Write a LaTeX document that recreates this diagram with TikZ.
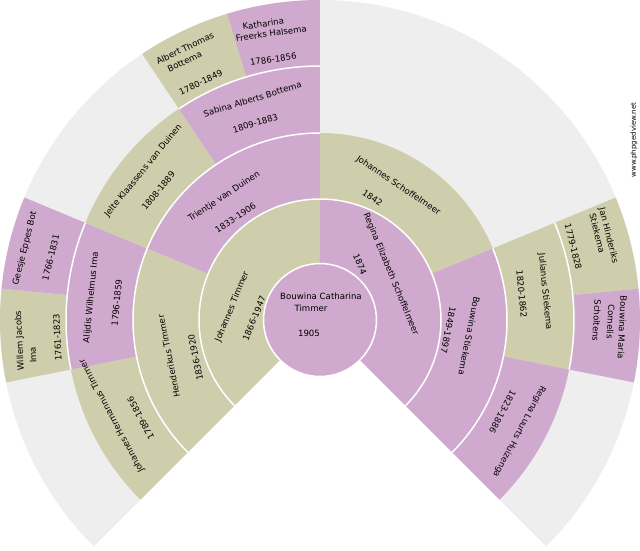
\documentclass[tikz,border=0pt]{standalone}
\usepackage{fontspec}
\newfontfamily\fanfont{DejaVu Sans}
\definecolor{fanolive}{RGB}{206,206,172}
\definecolor{fanmauve}{RGB}{208,170,206}
\definecolor{fangray}{RGB}{238,238,238}

\begin{document}
\begin{tikzpicture}[x=1pt, y=1pt,
    lbl/.style={font=\fanfont\fontsize{8.6}{10}\selectfont, inner sep=0pt},
    wm/.style={font=\fanfont\fontsize{7}{8}\selectfont, inner sep=0pt},
    ring/.style={white, line width=1.5}]
\def\rA{56.5}
\def\rB{121}
\def\rC{187}
\def\rD{254}
\def\rE{320}
\useasboundingbox (-320,-230) rectangle (320,320);
\fill[white] (-320,-230) rectangle (320,320);
% Hintergrund
\fill[fangray] (0,0) -- (225:\rE) arc (225:-45:\rE) -- cycle;

% Generation 4
\fill[fanolive] (191.25:\rD) arc (191.25:174.375:\rD) -- (174.375:\rE) arc (174.375:191.25:\rE) -- cycle;
\fill[fanmauve] (174.375:\rD) arc (174.375:157.5:\rD) -- (157.5:\rE) arc (157.5:174.375:\rE) -- cycle;
\fill[fanolive] (123.75:\rD) arc (123.75:106.875:\rD) -- (106.875:\rE) arc (106.875:123.75:\rE) -- cycle;
\fill[fanmauve] (106.875:\rD) arc (106.875:90:\rD) -- (90:\rE) arc (90:106.875:\rE) -- cycle;
\fill[fanolive] (22.5:\rD) arc (22.5:5.625:\rD) -- (5.625:\rE) arc (5.625:22.5:\rE) -- cycle;
\fill[fanmauve] (5.625:\rD) arc (5.625:-11.25:\rD) -- (-11.25:\rE) arc (-11.25:5.625:\rE) -- cycle;

% Generation 3
\fill[fanolive] (225:\rC) arc (225:191.25:\rC) -- (191.25:\rD) arc (191.25:225:\rD) -- cycle;
\fill[fanmauve] (191.25:\rC) arc (191.25:157.5:\rC) -- (157.5:\rD) arc (157.5:191.25:\rD) -- cycle;
\fill[fanolive] (157.5:\rC) arc (157.5:123.75:\rC) -- (123.75:\rD) arc (123.75:157.5:\rD) -- cycle;
\fill[fanmauve] (123.75:\rC) arc (123.75:90:\rC) -- (90:\rD) arc (90:123.75:\rD) -- cycle;
\fill[fanolive] (22.5:\rC) arc (22.5:-11.25:\rC) -- (-11.25:\rD) arc (-11.25:22.5:\rD) -- cycle;
\fill[fanmauve] (-11.25:\rC) arc (-11.25:-45:\rC) -- (-45:\rD) arc (-45:-11.25:\rD) -- cycle;

% Generation 2
\fill[fanolive] (225:\rB) arc (225:157.5:\rB) -- (157.5:\rC) arc (157.5:225:\rC) -- cycle;
\fill[fanmauve] (157.5:\rB) arc (157.5:90:\rB) -- (90:\rC) arc (90:157.5:\rC) -- cycle;
\fill[fanolive] (90:\rB) arc (90:22.5:\rB) -- (22.5:\rC) arc (22.5:90:\rC) -- cycle;
\fill[fanmauve] (22.5:\rB) arc (22.5:-45:\rB) -- (-45:\rC) arc (-45:22.5:\rC) -- cycle;

% Generation 1
\fill[fanolive] (225:\rA) arc (225:90:\rA) -- (90:\rB) arc (90:225:\rB) -- cycle;
\fill[fanmauve] (90:\rA) arc (90:-45:\rA) -- (-45:\rB) arc (-45:90:\rB) -- cycle;

% weisse Ringe
\draw[ring] (225:\rB) arc (225:-45:\rB);
\draw[ring] (225:\rC) arc (225:90:\rC);
\draw[ring] (22.5:\rC) arc (22.5:-45:\rC);
\draw[ring] (191.25:\rD) arc (191.25:157.5:\rD);
\draw[ring] (123.75:\rD) arc (123.75:90:\rD);
\draw[ring] (22.5:\rD) arc (22.5:-11.25:\rD);
\draw[ring, fill=fanmauve] (0,0) circle (\rA);

% Mitte
\node[lbl] (bct) at (1,24) {Bouwina Catharina};
\node[lbl] (bct-2) at (-9,12) {Timmer};
\node[lbl] (bct-yr) at (-11,-13) {1905};

% Eltern
\node[lbl, rotate=67.5] (jt) at (-87.8,13.3) {Johannes Timmer};
\node[lbl, rotate=67.5] (jt-yr) at (-65.8,1.7) {1866-1947};
\node[lbl, rotate=-67.5] (res) at (70.8,45.8) {Regina Elizabeth Schoffelmeer};
\node[lbl, rotate=-67.5] (res-yr) at (40,56) {1874};

% Grosseltern
\node[lbl, rotate=101.25] (ht) at (-151.2,-36.3) {Henderikus Timmer};
\node[lbl, rotate=101.25] (ht-yr) at (-124.5,-37.5) {1836-1920};
\node[lbl, rotate=33.75] (tvd) at (-95.8,123.3) {Trientje van Duinen};
\node[lbl, rotate=33.75] (tvd-yr) at (-84.5,102.2) {1833-1906};
\node[lbl, rotate=-33.75] (js) at (78.3,134.3) {Johannes Schoffelmeer};
\node[lbl, rotate=-33.75] (js-yr) at (52.5,122.5) {1842};
\node[lbl, rotate=-101.25] (bs) at (149.2,-15.8) {Bouwina Stiekema};
\node[lbl, rotate=-101.25] (bs-yr) at (128.3,-10) {1849-1897};

% Urgrosseltern
\node[lbl, rotate=118.125] (jht) at (-208.3,-96) {Johannes Hermannus Timmer};
\node[lbl, rotate=118.125] (jht-yr) at (-179.3,-98.3) {1789-1856};
\node[lbl, rotate=84.375] (awi) at (-228.7,22.7) {Alijdis Wilhelmus Ima};
\node[lbl, rotate=84.375] (awi-yr) at (-203.3,17.3) {1796-1859};
\node[lbl, rotate=50.625] (jkd) at (-176.7,149.3) {Jelte Klaassens van Duinen};
\node[lbl, rotate=50.625] (jkd-yr) at (-161.7,129.3) {1808-1889};
\node[lbl, rotate=16.875] (sab) at (-67.5,220.8) {Sabina Alberts Bottema};
\node[lbl, rotate=16.875] (sab-yr) at (-64.7,196.7) {1809-1883};
\node[lbl, rotate=-84.375] (jus) at (225,28.3) {Julianus Stiekema};
\node[lbl, rotate=-84.375] (jus-yr) at (201.7,26) {1820-1862};
\node[lbl, rotate=-118.125] (rlh) at (199.2,-111.7) {Regina Luurts Huizenga};
\node[lbl, rotate=-118.125] (rlh-yr) at (182.5,-91.7) {1823-1886};

% Ururgrosseltern
\node[lbl, rotate=92.8125] (wji) at (-300,-20.7) {Willem Jacobs};
\node[lbl, rotate=92.8125] (wji-2) at (-287,-35) {Ima};
\node[lbl, rotate=92.8125] (wji-yr) at (-262.7,-17.3) {1761-1823};
\node[lbl, rotate=75.9375] (geb) at (-295,71.7) {Geesje Eppes Bot};
\node[lbl, rotate=75.9375] (geb-yr) at (-269.2,62.5) {1766-1831};
\node[lbl, rotate=25.3125] (atb) at (-135,271.7) {Albert Thomas};
\node[lbl, rotate=25.3125] (atb-2) at (-135.3,258.3) {Bottema};
\node[lbl, rotate=25.3125] (atb-yr) at (-119.2,237.5) {1780-1849};
\node[lbl, rotate=8.4375] (kfh) at (-56.7,296.3) {Katharina};
\node[lbl, rotate=8.4375] (kfh-2) at (-48.8,286.7) {Freerks Halsema};
\node[lbl, rotate=8.4375] (kfh-yr) at (-46.7,260.8) {1786-1856};
\node[lbl, rotate=-75.9375] (jhs) at (288.3,84.3) {Jan Hinderiks};
\node[lbl, rotate=-75.9375] (jhs-2) at (277.3,86.7) {Stiekema};
\node[lbl, rotate=-75.9375] (jhs-yr) at (253.3,73.3) {1779-1828};
\node[lbl, rotate=-92.8125] (bmc) at (302.3,-7.3) {Bouwina Maria};
\node[lbl, rotate=-92.8125] (bmc-2) at (290.7,-1.7) {Cornelis};
\node[lbl, rotate=-92.8125] (bmc-3) at (276.7,-0.7) {Scholtens};

\node[wm, rotate=90] (site) at (314,180) {www.phpgedview.net};
\end{tikzpicture}
\end{document}
